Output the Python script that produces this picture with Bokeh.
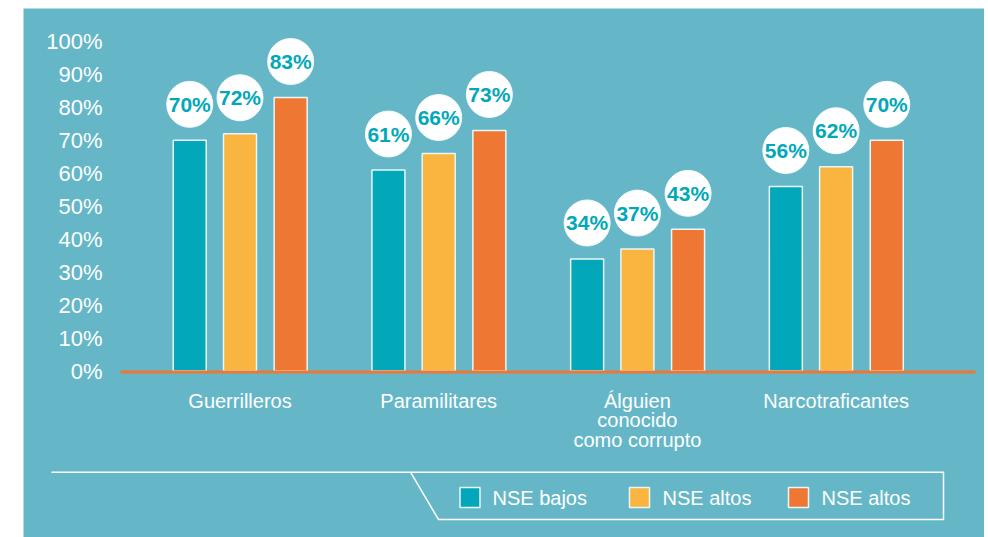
from bokeh.plotting import figure
from bokeh.models import ColumnDataSource, Spacer
from bokeh.layouts import row, column
from bokeh.core.properties import value
from bokeh.embed import file_html
from bokeh.resources import INLINE

# ---- data ----
categories = ["Guerrilleros", "Paramilitares", "Álguien\nconocido\ncomo corrupto", "Narcotraficantes"]
series_names = ["NSE bajos", "NSE altos", "NSE altos"]
nse_bajos = [70, 61, 34, 56]
nse_altos_1 = [72, 66, 37, 62]
nse_altos_2 = [83, 73, 43, 70]
y_ticks = [0, 10, 20, 30, 40, 50, 60, 70, 80, 90, 100]
y_tick_labels = ["0%", "10%", "20%", "30%", "40%", "50%", "60%", "70%", "80%", "90%", "100%"]

# ---- style ----
BG = "#65B7C8"
TEAL = "#02A8B9"
YELLOW = "#F9B53F"
ORANGE = "#EE7733"
colors = [TEAL, YELLOW, ORANGE]
FONT = "Liberation Sans"

W, H = 961, 529
PAGE_LEFT, PAGE_TOP = 23, 8
KX = 198.7          # px per category
X0_PX = 239.5       # page px of first group centre
KY = 3.295          # px per percent
ZERO_PX = 370.5     # page px of value 0

x_start = -(X0_PX - PAGE_LEFT) / KX
x_end = x_start + W / KX
y_end = (ZERO_PX - PAGE_TOP) / KY
y_start = -(PAGE_TOP + H - ZERO_PX) / KY


def X(px):
    return x_start + (px - PAGE_LEFT) / KX


def Y(py):
    return (ZERO_PX - py) / KY


p = figure(width=W, height=H, x_range=(x_start, x_end), y_range=(y_start, y_end),
           x_axis_type=None, y_axis_type=None, toolbar_location=None,
           output_backend="svg", min_border=0, outline_line_color=None,
           background_fill_color=BG, border_fill_color=BG)
p.xgrid.visible = False
p.ygrid.visible = False

# y tick labels
p.text(x=[X(102)] * len(y_ticks), y=y_ticks, text=y_tick_labels,
       text_align="right", text_baseline="middle", text_color="white",
       text_font=value(FONT), text_font_size="22px")

# bars
xs = list(range(len(categories)))
offsets = [-0.253, 0.0, 0.255]
bar_w = 33 / KX
label_off = 36 / KY
for vals, col, off in zip([nse_bajos, nse_altos_1, nse_altos_2], colors, offsets):
    src = ColumnDataSource(dict(
        x=[i + off for i in xs], top=vals,
        ly=[v + label_off for v in vals],
        txt=[f"{v}%" for v in vals]))
    p.vbar(x="x", top="top", bottom=0, width=bar_w, source=src,
           fill_color=col, line_color="#EAF6F8", line_width=1.5)
    p.scatter(x="x", y="ly", size=46, source=src, marker="circle",
              fill_color="white", line_color="#F2FAFB", line_width=1)
    p.text(x="x", y="ly", text="txt", source=src, text_align="center",
           text_baseline="middle", text_color=TEAL, text_font=value(FONT),
           text_font_style="bold", text_font_size="21px")

# baseline
p.segment(x0=[X(120)], x1=[X(975)], y0=[Y(371.5)], y1=[Y(371.5)],
          line_color=ORANGE, line_width=3)

# category labels
p.text(x=xs, y=[Y(389)] * len(xs), text=categories, text_align="center",
       text_baseline="top", text_color="white", text_font=value(FONT),
       text_font_size="20px", text_line_height=0.9)

# legend frame
p.line(x=[X(51), X(943), X(943), X(438), X(410)],
       y=[Y(471.7), Y(471.7), Y(519), Y(519), Y(471.7)],
       line_color="white", line_width=1.5)

leg_sq_px = [469.5, 639, 798]
leg_tx_px = [492, 662, 821]
p.scatter(x=[X(v) for v in leg_sq_px], y=[Y(497)] * 3, marker="square", size=20,
          fill_color=colors, line_color="#EAF6F8", line_width=1.5)
p.text(x=[X(v) for v in leg_tx_px], y=[Y(497)] * 3, text=series_names,
       text_align="left", text_baseline="middle", text_color="white",
       text_font=value(FONT), text_font_size="20px")

layout = column(Spacer(width=W + PAGE_LEFT, height=PAGE_TOP),
                row(Spacer(width=PAGE_LEFT, height=H), p))
open("out.html", "w").write(file_html(layout, INLINE))
